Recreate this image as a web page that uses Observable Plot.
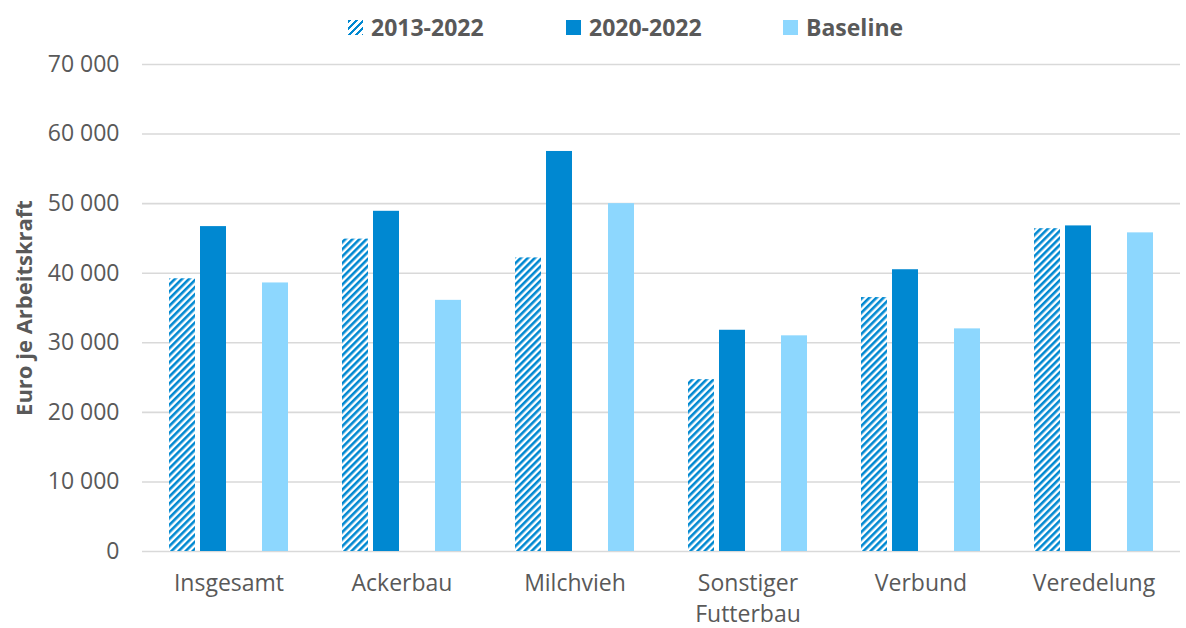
<!DOCTYPE html>
<html><head><meta charset="utf-8">
<script src="https://cdn.jsdelivr.net/npm/d3@7"></script>
<script src="https://cdn.jsdelivr.net/npm/@observablehq/plot@0.6"></script>
<style>
body{margin:0;background:#fff;font-family:"Open Sans",sans-serif;}
#legend{position:relative;height:48px;width:1186px;}
.item{position:absolute;top:10px;display:flex;align-items:center;font-weight:bold;font-size:23px;color:#595959;line-height:34px;}
.sw{width:15px;height:15px;margin-right:8px;}
g[aria-label="y-axis label"] text{font-weight:bold;font-size:22px;}
</style>
</head><body>
<div id="legend"></div>
<div id="chart"></div>
<script>
const categories = ["Insgesamt","Ackerbau","Milchvieh","Sonstiger Futterbau","Verbund","Veredelung"];
const seriesNames = ["2013-2022","2020-2022","Baseline"];
const s2013_2022 = [39200, 44900, 42200, 24700, 36500, 46400];
const s2020_2022 = [46700, 48900, 57500, 31800, 40500, 46800];
const baseline   = [38600, 36100, 50000, 31000, 32000, 45800];
const yTicks = [0,10000,20000,30000,40000,50000,60000,70000];
const yLabel = "Euro je Arbeitskraft";

const seriesValues = [s2013_2022, s2020_2022, baseline];
const rows = [];
categories.forEach((c,i)=>seriesNames.forEach((s,j)=>rows.push({category:c, series:s, value:seriesValues[j][i]})));

const dark = "#0088d1", light = "#8dd7fe";
const fills = ["url(#hatch)", dark, light];

// legend
const legendLeft = [348, 566, 783];
const swBg = ["repeating-linear-gradient(135deg, "+dark+" 0 2.5px, #fff 2.5px 5px)", dark, light];
const legend = document.getElementById("legend");
seriesNames.forEach((s,j)=>{
  const it = document.createElement("div");
  it.className="item"; it.style.left=legendLeft[j]+"px";
  const sw = document.createElement("span"); sw.className="sw"; sw.style.background=swBg[j];
  it.appendChild(sw);
  const t = document.createElement("span"); t.textContent=s; it.appendChild(t);
  legend.appendChild(it);
});

const loc = d3.formatLocale({decimal:",", thousands:" ", grouping:[3], currency:["","€"]});
const fmt = loc.format(",");

const chart = Plot.plot({
  width:1186, height:580,
  marginTop:16, marginBottom:77, marginLeft:141, marginRight:6,
  style:{fontFamily:"Open Sans", fontSize:"22px", color:"#595959", background:"white"},
  fx:{domain:categories, padding:0, label:null, axis:null},
  x:{domain:["2013-2022","2020-2022","_gap","Baseline"], paddingInner:0.17, paddingOuter:0.845, axis:null},
  y:{domain:[0,70000]},
  color:{domain:seriesNames, range:fills},
  marks:[
    Plot.gridY(yTicks,{stroke:"#d9d9d9", strokeOpacity:1, strokeWidth:1.6}),
    Plot.axisY(yTicks,{tickSize:0, tickPadding:23, tickFormat:fmt, label:yLabel, labelAnchor:"center", labelArrow:"none", labelOffset:126, fontSize:23, fill:"#595959"}),
    Plot.barY(rows,{fx:"category", x:"series", y:"value", fill:"series"}),
    Plot.axisFx({anchor:"bottom", tickSize:0, tickPadding:18, label:null, fontSize:23, lineHeight:1.34, fill:"#595959",
      tickFormat:d=>d==="Sonstiger Futterbau"?"Sonstiger\nFutterbau":d})
  ]
});
document.getElementById("chart").appendChild(chart);
const svg = d3.select(chart);
const defs = svg.insert("defs",":first-child");
const p = defs.append("pattern").attr("id","hatch").attr("patternUnits","userSpaceOnUse")
  .attr("width",5).attr("height",5).attr("patternTransform","rotate(45)");
p.append("rect").attr("width",5).attr("height",5).attr("fill","#fff");
p.append("rect").attr("width",2.6).attr("height",5).attr("fill",dark);
</script>
</body></html>
